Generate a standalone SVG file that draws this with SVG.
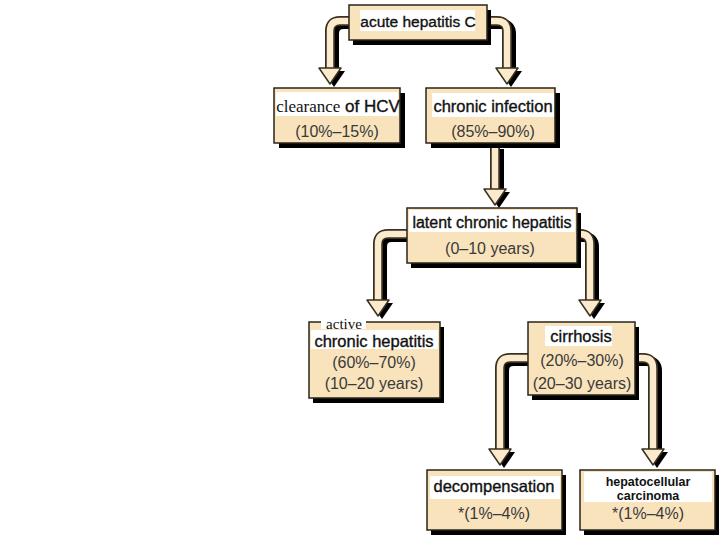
<svg xmlns="http://www.w3.org/2000/svg" width="720" height="540" viewBox="0 0 720 540">
<style>
.bx{fill:#F9E3BC;stroke:#2a2418;stroke-width:1.5}
.sh{fill:#000}
.lb{fill:#fff}
.t{font-family:"Liberation Sans",Arial,sans-serif;font-size:16.5px;fill:#111;stroke:#111;stroke-width:0.35;text-anchor:middle}
.n{font-family:"Liberation Sans",Arial,sans-serif;font-size:16px;fill:#3a3a3a;text-anchor:middle}
.s{font-family:"Liberation Serif","Times New Roman",serif;stroke-width:0}
.ash{fill:none;stroke:#000;stroke-width:10}
.aol{fill:none;stroke:#3a3020;stroke-width:10}
.ain{fill:none;stroke:#FBEACB;stroke-width:6.5}
.hsh{fill:#000}
.hd{fill:#FBEACB;stroke:#3a3020;stroke-width:1.5;stroke-linejoin:round}
</style>
<defs>
<path id="p1" d="M349,21 H340 Q330,21 330,31 V70"/>
<path id="p2" d="M487,21 H497 Q507,21 507,31 V70"/>
<path id="p3" d="M495,146 V190"/>
<path id="p4" d="M407,234 H388 Q378,234 378,244 V302"/>
<path id="p5" d="M577,234 H580 Q590,234 590,244 V302"/>
<path id="p6" d="M528,358 H510 Q500,358 500,368 V451"/>
<path id="p7" d="M635,358 H643 Q653,358 653,368 V451"/>
</defs>
<rect width="720" height="540" fill="#fff"/>
<g id="connectors">
<g transform="translate(4,3)">
<use href="#p1" class="ash"/><use href="#p2" class="ash"/><use href="#p3" class="ash"/><use href="#p4" class="ash"/><use href="#p5" class="ash"/><use href="#p6" class="ash"/><use href="#p7" class="ash"/>
<polygon class="hsh" points="319,68 341,68 330,84"/>
<polygon class="hsh" points="496,68 518,68 507,84"/>
<polygon class="hsh" points="484,189 506,189 495,205"/>
<polygon class="hsh" points="367,300 389,300 378,316"/>
<polygon class="hsh" points="579,300 601,300 590,316"/>
<polygon class="hsh" points="489,449 511,449 500,465"/>
<polygon class="hsh" points="642,449 664,449 653,465"/>
</g>
<use href="#p1" class="aol"/><use href="#p2" class="aol"/><use href="#p3" class="aol"/><use href="#p4" class="aol"/><use href="#p5" class="aol"/><use href="#p6" class="aol"/><use href="#p7" class="aol"/>
<use href="#p1" class="ain"/><use href="#p2" class="ain"/><use href="#p3" class="ain"/><use href="#p4" class="ain"/><use href="#p5" class="ain"/><use href="#p6" class="ain"/><use href="#p7" class="ain"/>
<polygon class="hd" points="319,68 341,68 330,84"/>
<polygon class="hd" points="496,68 518,68 507,84"/>
<polygon class="hd" points="484,189 506,189 495,205"/>
<polygon class="hd" points="367,300 389,300 378,316"/>
<polygon class="hd" points="579,300 601,300 590,316"/>
<polygon class="hd" points="489,449 511,449 500,465"/>
<polygon class="hd" points="642,449 664,449 653,465"/>
</g>
<g id="acute">
<rect class="sh" x="353" y="10" width="138" height="35"/>
<rect class="bx" x="349" y="5" width="138" height="35"/>
<rect class="lb" x="360" y="10" width="115" height="21"/>
<text class="t" x="418" y="27" style="font-size:15.5px">acute hepatitis C</text>
</g>
<g id="clearance">
<rect class="sh" x="279" y="93" width="126" height="55"/>
<rect class="bx" x="274" y="88" width="126" height="55"/>
<rect class="lb" x="276" y="92" width="122" height="24"/>
<text class="t" x="338" y="112" style="font-size:17px"><tspan class="s">clearance</tspan> of HCV</text>
<text class="n" x="337" y="137">(10%–15%)</text>
</g>
<g id="chronic">
<rect class="sh" x="431" y="93" width="129" height="55"/>
<rect class="bx" x="426" y="88" width="129" height="55"/>
<rect class="lb" x="432" y="93" width="122" height="24"/>
<text class="t" x="493" y="112">chronic infection</text>
<text class="n" x="493" y="137">(85%–90%)</text>
</g>
<g id="latent">
<rect class="sh" x="411" y="213" width="170" height="55"/>
<rect class="bx" x="407" y="208" width="170" height="55"/>
<rect class="lb" x="409" y="210" width="166" height="22"/>
<text class="t" x="492" y="228" style="font-size:16px">latent chronic hepatitis</text>
<text class="n" x="490" y="254">(0–10 years)</text>
</g>
<g id="active">
<rect class="sh" x="313" y="327" width="131" height="76"/>
<rect class="bx" x="309" y="322" width="131" height="76"/>
<rect class="lb" x="321" y="317" width="45" height="12"/>
<rect class="lb" x="311" y="330" width="127" height="19"/>
<text class="t s" x="344" y="329" style="font-size:15px">active</text>
<text class="t" x="374" y="347">chronic hepatitis</text>
<text class="n" x="374" y="368">(60%–70%)</text>
<text class="n" x="374" y="389">(10–20 years)</text>
</g>
<g id="cirrhosis">
<rect class="sh" x="532" y="327" width="107" height="73"/>
<rect class="bx" x="528" y="322" width="107" height="73"/>
<rect class="lb" x="545" y="326" width="67" height="20"/>
<text class="t" x="581" y="342">cirrhosis</text>
<text class="n" x="582" y="366">(20%–30%)</text>
<text class="n" x="582" y="389">(20–30 years)</text>
</g>
<g id="decomp">
<rect class="sh" x="431" y="475" width="135" height="60"/>
<rect class="bx" x="427" y="470" width="135" height="60"/>
<rect class="lb" x="430" y="476" width="130" height="23"/>
<text class="t" x="494" y="492">decompensation</text>
<text class="n" x="494" y="519">*(1%–4%)</text>
</g>
<g id="hcc">
<rect class="sh" x="584" y="475" width="135" height="60"/>
<rect class="bx" x="580" y="470" width="135" height="60"/>
<rect class="lb" x="584" y="472" width="128" height="30"/>
<text class="t" x="648" y="486" style="font-size:12.5px;font-weight:bold;stroke-width:0">hepatocellular</text>
<text class="t" x="648" y="500" style="font-size:12.5px;font-weight:bold;stroke-width:0">carcinoma</text>
<text class="n" x="648" y="519">*(1%–4%)</text>
</g>
</svg>
